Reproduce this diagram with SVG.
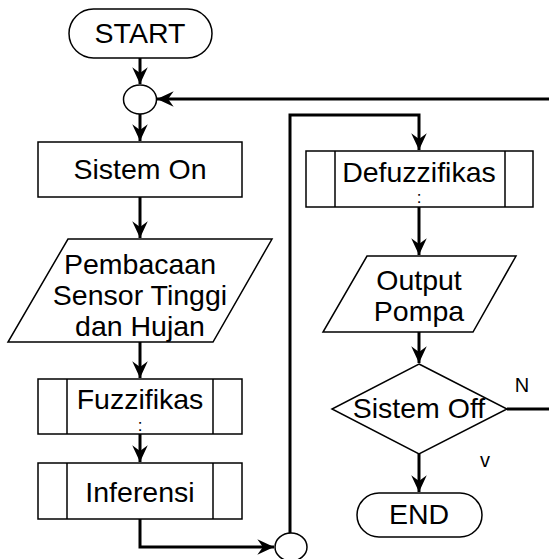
<svg xmlns="http://www.w3.org/2000/svg" width="549" height="559" viewBox="0 0 549 559">
<defs>
<style>
.shape{fill:#fff;stroke:#000;stroke-width:1.5}
.conn{fill:none;stroke:#000;stroke-width:3}
.t{font-family:"Liberation Sans",Arial,sans-serif;font-size:28.5px;fill:#000;text-anchor:middle}
.s{font-family:"Liberation Sans",Arial,sans-serif;font-size:17px;fill:#000;text-anchor:middle}
</style>
<marker id="ah" markerUnits="userSpaceOnUse" markerWidth="20" markerHeight="20" viewBox="-16 -8 18 16" refX="0" refY="0" orient="auto">
<path d="M0,0 L-15,-7 L-10,0 L-15,7 z" fill="#000"/>
</marker>
</defs>
<rect width="549" height="559" fill="#fff"/>
<g id="connectors">
<path class="conn" d="M140,58 V84" marker-end="url(#ah)"/>
<path class="conn" d="M549,99 H157" marker-end="url(#ah)"/>
<path class="conn" d="M140,114 V141" marker-end="url(#ah)"/>
<path class="conn" d="M140,197 V238" marker-end="url(#ah)"/>
<path class="conn" d="M140,342 V378" marker-end="url(#ah)"/>
<path class="conn" d="M140,434 V462" marker-end="url(#ah)"/>
<path class="conn" d="M140,519 V547 H274" marker-end="url(#ah)"/>
<path class="conn" d="M290,533 V115 H419 V150" marker-end="url(#ah)"/>
<path class="conn" d="M419,207 V255" marker-end="url(#ah)"/>
<path class="conn" d="M419,332 V363" marker-end="url(#ah)"/>
<path class="conn" d="M507,409 H549"/>
<path class="conn" d="M419,454 V492" marker-end="url(#ah)"/>
<text class="s" x="522" y="392" style="font-size:20px">N</text>
<text class="s" x="485" y="467" style="font-size:20px">v</text>
</g>
<g id="start">
<rect class="shape" x="69" y="9" width="143" height="49" rx="24.5"/>
<text class="t" x="140" y="43">START</text>
</g>
<g id="junction1">
<ellipse class="shape" cx="140" cy="99.5" rx="16.5" ry="14.5"/>
</g>
<g id="sistem-on">
<rect class="shape" x="38" y="142" width="204" height="55"/>
<text class="t" x="140" y="179">Sistem On</text>
</g>
<g id="pembacaan">
<polygon class="shape" points="68,239 272,239 213,342 8,342"/>
<text class="t" x="140" y="274">Pembacaan</text>
<text class="t" x="140" y="305">Sensor Tinggi</text>
<text class="t" x="140" y="336">dan Hujan</text>
</g>
<g id="fuzzifikasi">
<rect class="shape" x="38" y="379" width="204" height="55"/>
<line class="shape" x1="67" y1="379" x2="67" y2="434"/>
<line class="shape" x1="213" y1="379" x2="213" y2="434"/>
<text class="t" x="140" y="409">Fuzzifikas</text>
<text class="s" x="140" y="431">:</text>
</g>
<g id="inferensi">
<rect class="shape" x="38" y="463" width="204" height="56"/>
<line class="shape" x1="67" y1="463" x2="67" y2="519"/>
<line class="shape" x1="213" y1="463" x2="213" y2="519"/>
<text class="t" x="140" y="502">Inferensi</text>
</g>
<g id="junction2">
<ellipse class="shape" cx="291" cy="547" rx="16" ry="14"/>
</g>
<g id="defuzzifikasi">
<rect class="shape" x="306" y="151" width="227" height="56"/>
<line class="shape" x1="335" y1="151" x2="335" y2="207"/>
<line class="shape" x1="505" y1="151" x2="505" y2="207"/>
<text class="t" x="419" y="182">Defuzzifikas</text>
<text class="s" x="419" y="203">:</text>
</g>
<g id="output-pompa">
<polygon class="shape" points="367,256 516,256 473,332 323,332"/>
<text class="t" x="419" y="290">Output</text>
<text class="t" x="419" y="321">Pompa</text>
</g>
<g id="sistem-off">
<polygon class="shape" points="419,364 507,409 419,454 332,409"/>
<text class="t" x="419" y="418">Sistem Off</text>
</g>
<g id="end">
<rect class="shape" x="357" y="493" width="125" height="44" rx="22"/>
<text class="t" x="419" y="524">END</text>
</g>
</svg>
